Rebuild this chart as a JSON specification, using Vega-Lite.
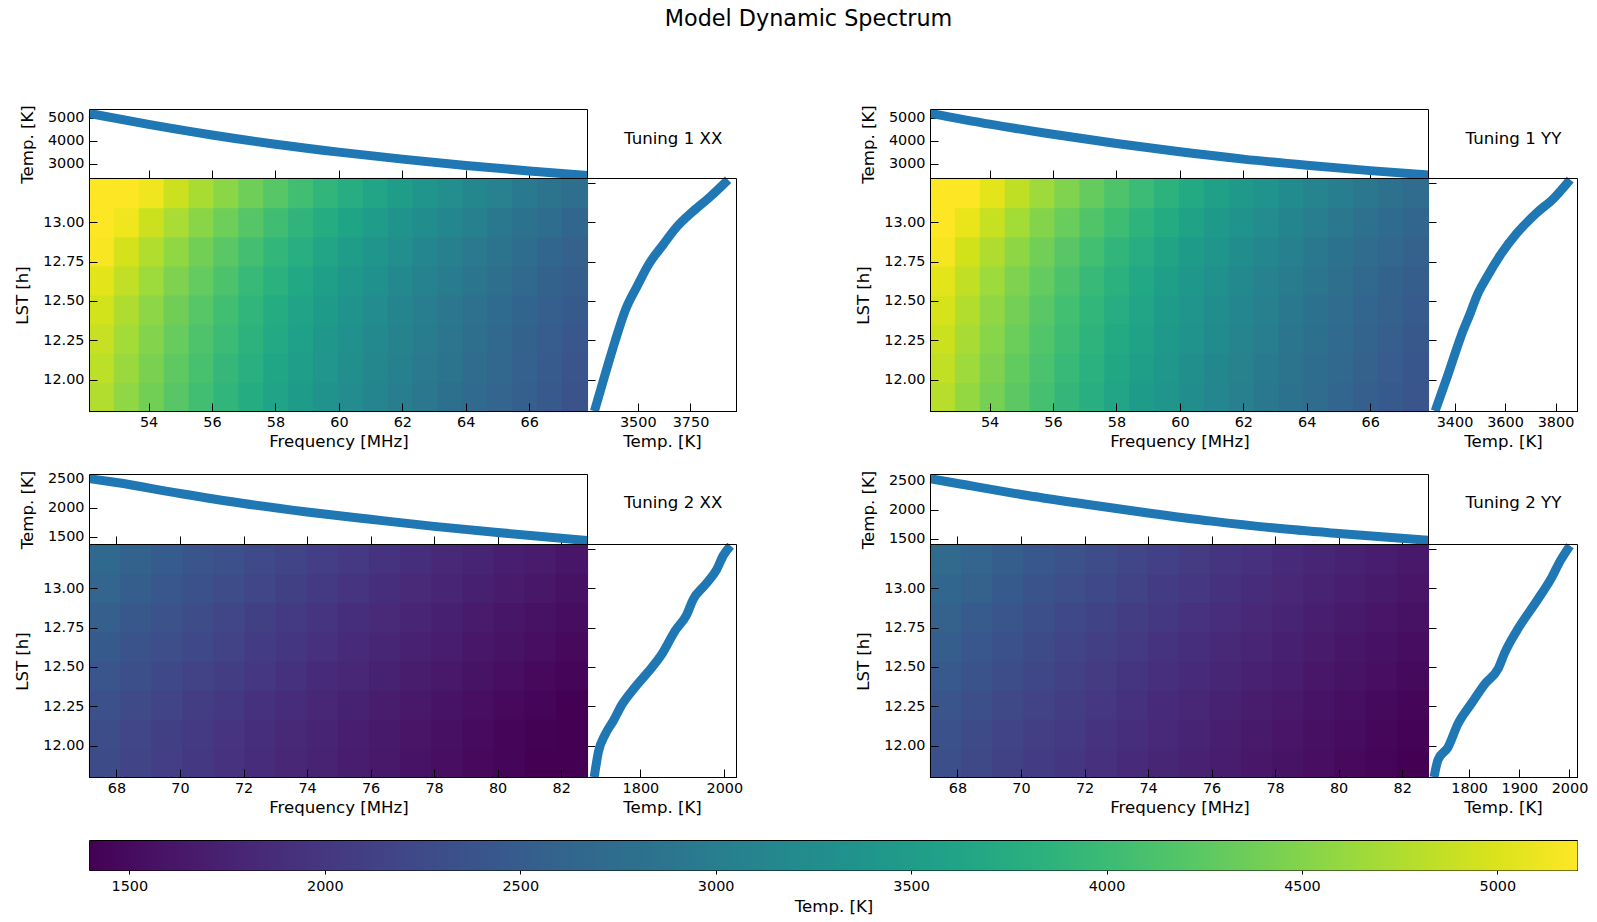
{"$schema":"https://vega.github.io/schema/vega-lite/v6.json","width":1597,"height":922,"padding":0,"autosize":"none","background":"white",
"title":{"text":"Model Dynamic Spectrum","font":"DejaVu Sans","fontSize":22.3,"fontWeight":"normal","anchor":"middle","frame":"group","offset":0,"dy":30,"dx":10,"color":"black"},
"config":{"view":{"stroke":null},"font":"DejaVu Sans","axis":{"grid":false,"domainColor":"black","tickColor":"black","labelColor":"black","titleColor":"black","labelFont":"DejaVu Sans","titleFont":"DejaVu Sans","labelFontSize":14.4,"titleFontSize":16.6,"titleFontWeight":"normal","tickSize":-8,"labelPadding":12,"titlePadding":5,"labelOverlap":false,"labelFlush":false,"labelBound":false},"axisLeft":{"labelPadding":13,"titlePadding":12},"text":{"font":"DejaVu Sans"}},
"datasets":{
"h1x":[
{"f":52.53,"h":11.89,"t":4768},{"f":53.315,"h":11.89,"t":4573},{"f":54.1,"h":11.89,"t":4390},{"f":54.885,"h":11.89,"t":4216},{"f":55.67,"h":11.89,"t":4052},{"f":56.455,"h":11.89,"t":3897},{"f":57.24,"h":11.89,"t":3749},{"f":58.025,"h":11.89,"t":3608},{"f":58.81,"h":11.89,"t":3476},{"f":59.595,"h":11.89,"t":3348},{"f":60.38,"h":11.89,"t":3230},{"f":61.165,"h":11.89,"t":3114},{"f":61.95,"h":11.89,"t":3005},{"f":62.735,"h":11.89,"t":2900},{"f":63.52,"h":11.89,"t":2801},{"f":64.305,"h":11.89,"t":2705},{"f":65.09,"h":11.89,"t":2615},{"f":65.875,"h":11.89,"t":2530},{"f":66.66,"h":11.89,"t":2448},{"f":67.445,"h":11.89,"t":2370},
{"f":52.53,"h":12.075,"t":4824},{"f":53.315,"h":12.075,"t":4627},{"f":54.1,"h":12.075,"t":4441},{"f":54.885,"h":12.075,"t":4265},{"f":55.67,"h":12.075,"t":4099},{"f":56.455,"h":12.075,"t":3942},{"f":57.24,"h":12.075,"t":3793},{"f":58.025,"h":12.075,"t":3650},{"f":58.81,"h":12.075,"t":3517},{"f":59.595,"h":12.075,"t":3387},{"f":60.38,"h":12.075,"t":3267},{"f":61.165,"h":12.075,"t":3150},{"f":61.95,"h":12.075,"t":3040},{"f":62.735,"h":12.075,"t":2934},{"f":63.52,"h":12.075,"t":2834},{"f":64.305,"h":12.075,"t":2737},{"f":65.09,"h":12.075,"t":2646},{"f":65.875,"h":12.075,"t":2560},{"f":66.66,"h":12.075,"t":2476},{"f":67.445,"h":12.075,"t":2398},
{"f":52.53,"h":12.26,"t":4885},{"f":53.315,"h":12.26,"t":4685},{"f":54.1,"h":12.26,"t":4497},{"f":54.885,"h":12.26,"t":4319},{"f":55.67,"h":12.26,"t":4151},{"f":56.455,"h":12.26,"t":3992},{"f":57.24,"h":12.26,"t":3841},{"f":58.025,"h":12.26,"t":3696},{"f":58.81,"h":12.26,"t":3561},{"f":59.595,"h":12.26,"t":3430},{"f":60.38,"h":12.26,"t":3308},{"f":61.165,"h":12.26,"t":3190},{"f":61.95,"h":12.26,"t":3078},{"f":62.735,"h":12.26,"t":2971},{"f":63.52,"h":12.26,"t":2870},{"f":64.305,"h":12.26,"t":2772},{"f":65.09,"h":12.26,"t":2679},{"f":65.875,"h":12.26,"t":2592},{"f":66.66,"h":12.26,"t":2507},{"f":67.445,"h":12.26,"t":2428},
{"f":52.53,"h":12.445,"t":4950},{"f":53.315,"h":12.445,"t":4748},{"f":54.1,"h":12.445,"t":4558},{"f":54.885,"h":12.445,"t":4377},{"f":55.67,"h":12.445,"t":4207},{"f":56.455,"h":12.445,"t":4046},{"f":57.24,"h":12.445,"t":3892},{"f":58.025,"h":12.445,"t":3746},{"f":58.81,"h":12.445,"t":3609},{"f":59.595,"h":12.445,"t":3476},{"f":60.38,"h":12.445,"t":3353},{"f":61.165,"h":12.445,"t":3233},{"f":61.95,"h":12.445,"t":3120},{"f":62.735,"h":12.445,"t":3011},{"f":63.52,"h":12.445,"t":2909},{"f":64.305,"h":12.445,"t":2809},{"f":65.09,"h":12.445,"t":2715},{"f":65.875,"h":12.445,"t":2627},{"f":66.66,"h":12.445,"t":2541},{"f":67.445,"h":12.445,"t":2461},
{"f":52.53,"h":12.63,"t":5052},{"f":53.315,"h":12.63,"t":4845},{"f":54.1,"h":12.63,"t":4651},{"f":54.885,"h":12.63,"t":4467},{"f":55.67,"h":12.63,"t":4293},{"f":56.455,"h":12.63,"t":4129},{"f":57.24,"h":12.63,"t":3972},{"f":58.025,"h":12.63,"t":3822},{"f":58.81,"h":12.63,"t":3683},{"f":59.595,"h":12.63,"t":3547},{"f":60.38,"h":12.63,"t":3422},{"f":61.165,"h":12.63,"t":3299},{"f":61.95,"h":12.63,"t":3183},{"f":62.735,"h":12.63,"t":3073},{"f":63.52,"h":12.63,"t":2968},{"f":64.305,"h":12.63,"t":2866},{"f":65.09,"h":12.63,"t":2771},{"f":65.875,"h":12.63,"t":2681},{"f":66.66,"h":12.63,"t":2593},{"f":67.445,"h":12.63,"t":2511},
{"f":52.53,"h":12.815,"t":5173},{"f":53.315,"h":12.815,"t":4962},{"f":54.1,"h":12.815,"t":4763},{"f":54.885,"h":12.815,"t":4574},{"f":55.67,"h":12.815,"t":4396},{"f":56.455,"h":12.815,"t":4228},{"f":57.24,"h":12.815,"t":4068},{"f":58.025,"h":12.815,"t":3915},{"f":58.81,"h":12.815,"t":3772},{"f":59.595,"h":12.815,"t":3633},{"f":60.38,"h":12.815,"t":3504},{"f":61.165,"h":12.815,"t":3379},{"f":61.95,"h":12.815,"t":3260},{"f":62.735,"h":12.815,"t":3147},{"f":63.52,"h":12.815,"t":3039},{"f":64.305,"h":12.815,"t":2935},{"f":65.09,"h":12.815,"t":2837},{"f":65.875,"h":12.815,"t":2745},{"f":66.66,"h":12.815,"t":2656},{"f":67.445,"h":12.815,"t":2572},
{"f":52.53,"h":13,"t":5336},{"f":53.315,"h":13,"t":5118},{"f":54.1,"h":13,"t":4912},{"f":54.885,"h":13,"t":4717},{"f":55.67,"h":13,"t":4534},{"f":56.455,"h":13,"t":4361},{"f":57.24,"h":13,"t":4195},{"f":58.025,"h":13,"t":4037},{"f":58.81,"h":13,"t":3890},{"f":59.595,"h":13,"t":3747},{"f":60.38,"h":13,"t":3614},{"f":61.165,"h":13,"t":3484},{"f":61.95,"h":13,"t":3362},{"f":62.735,"h":13,"t":3245},{"f":63.52,"h":13,"t":3135},{"f":64.305,"h":13,"t":3027},{"f":65.09,"h":13,"t":2926},{"f":65.875,"h":13,"t":2832},{"f":66.66,"h":13,"t":2739},{"f":67.445,"h":13,"t":2653},
{"f":52.53,"h":13.185,"t":5553},{"f":53.315,"h":13.185,"t":5327},{"f":54.1,"h":13.185,"t":5113},{"f":54.885,"h":13.185,"t":4910},{"f":55.67,"h":13.185,"t":4719},{"f":56.455,"h":13.185,"t":4539},{"f":57.24,"h":13.185,"t":4366},{"f":58.025,"h":13.185,"t":4202},{"f":58.81,"h":13.185,"t":4049},{"f":59.595,"h":13.185,"t":3900},{"f":60.38,"h":13.185,"t":3761},{"f":61.165,"h":13.185,"t":3627},{"f":61.95,"h":13.185,"t":3500},{"f":62.735,"h":13.185,"t":3378},{"f":63.52,"h":13.185,"t":3263},{"f":64.305,"h":13.185,"t":3151},{"f":65.09,"h":13.185,"t":3046},{"f":65.875,"h":13.185,"t":2947},{"f":66.66,"h":13.185,"t":2851},{"f":67.445,"h":13.185,"t":2761}],
"h1y":[
{"f":52.53,"h":11.89,"t":4798},{"f":53.315,"h":11.89,"t":4602},{"f":54.1,"h":11.89,"t":4418},{"f":54.885,"h":11.89,"t":4243},{"f":55.67,"h":11.89,"t":4078},{"f":56.455,"h":11.89,"t":3922},{"f":57.24,"h":11.89,"t":3773},{"f":58.025,"h":11.89,"t":3631},{"f":58.81,"h":11.89,"t":3498},{"f":59.595,"h":11.89,"t":3369},{"f":60.38,"h":11.89,"t":3250},{"f":61.165,"h":11.89,"t":3134},{"f":61.95,"h":11.89,"t":3024},{"f":62.735,"h":11.89,"t":2919},{"f":63.52,"h":11.89,"t":2819},{"f":64.305,"h":11.89,"t":2723},{"f":65.09,"h":11.89,"t":2632},{"f":65.875,"h":11.89,"t":2547},{"f":66.66,"h":11.89,"t":2463},{"f":67.445,"h":11.89,"t":2386},
{"f":52.53,"h":12.075,"t":4854},{"f":53.315,"h":12.075,"t":4656},{"f":54.1,"h":12.075,"t":4469},{"f":54.885,"h":12.075,"t":4292},{"f":55.67,"h":12.075,"t":4125},{"f":56.455,"h":12.075,"t":3967},{"f":57.24,"h":12.075,"t":3817},{"f":58.025,"h":12.075,"t":3673},{"f":58.81,"h":12.075,"t":3539},{"f":59.595,"h":12.075,"t":3409},{"f":60.38,"h":12.075,"t":3288},{"f":61.165,"h":12.075,"t":3170},{"f":61.95,"h":12.075,"t":3059},{"f":62.735,"h":12.075,"t":2953},{"f":63.52,"h":12.075,"t":2852},{"f":64.305,"h":12.075,"t":2754},{"f":65.09,"h":12.075,"t":2662},{"f":65.875,"h":12.075,"t":2576},{"f":66.66,"h":12.075,"t":2492},{"f":67.445,"h":12.075,"t":2413},
{"f":52.53,"h":12.26,"t":4915},{"f":53.315,"h":12.26,"t":4714},{"f":54.1,"h":12.26,"t":4525},{"f":54.885,"h":12.26,"t":4346},{"f":55.67,"h":12.26,"t":4177},{"f":56.455,"h":12.26,"t":4017},{"f":57.24,"h":12.26,"t":3864},{"f":58.025,"h":12.26,"t":3719},{"f":58.81,"h":12.26,"t":3583},{"f":59.595,"h":12.26,"t":3451},{"f":60.38,"h":12.26,"t":3329},{"f":61.165,"h":12.26,"t":3210},{"f":61.95,"h":12.26,"t":3097},{"f":62.735,"h":12.26,"t":2990},{"f":63.52,"h":12.26,"t":2888},{"f":64.305,"h":12.26,"t":2789},{"f":65.09,"h":12.26,"t":2696},{"f":65.875,"h":12.26,"t":2608},{"f":66.66,"h":12.26,"t":2523},{"f":67.445,"h":12.26,"t":2443},
{"f":52.53,"h":12.445,"t":4976},{"f":53.315,"h":12.445,"t":4773},{"f":54.1,"h":12.445,"t":4581},{"f":54.885,"h":12.445,"t":4399},{"f":55.67,"h":12.445,"t":4228},{"f":56.455,"h":12.445,"t":4066},{"f":57.24,"h":12.445,"t":3912},{"f":58.025,"h":12.445,"t":3765},{"f":58.81,"h":12.445,"t":3627},{"f":59.595,"h":12.445,"t":3494},{"f":60.38,"h":12.445,"t":3370},{"f":61.165,"h":12.445,"t":3249},{"f":61.95,"h":12.445,"t":3136},{"f":62.735,"h":12.445,"t":3027},{"f":63.52,"h":12.445,"t":2923},{"f":64.305,"h":12.445,"t":2823},{"f":65.09,"h":12.445,"t":2729},{"f":65.875,"h":12.445,"t":2641},{"f":66.66,"h":12.445,"t":2554},{"f":67.445,"h":12.445,"t":2474},
{"f":52.53,"h":12.63,"t":5052},{"f":53.315,"h":12.63,"t":4845},{"f":54.1,"h":12.63,"t":4651},{"f":54.885,"h":12.63,"t":4467},{"f":55.67,"h":12.63,"t":4293},{"f":56.455,"h":12.63,"t":4129},{"f":57.24,"h":12.63,"t":3972},{"f":58.025,"h":12.63,"t":3822},{"f":58.81,"h":12.63,"t":3683},{"f":59.595,"h":12.63,"t":3547},{"f":60.38,"h":12.63,"t":3422},{"f":61.165,"h":12.63,"t":3299},{"f":61.95,"h":12.63,"t":3183},{"f":62.735,"h":12.63,"t":3073},{"f":63.52,"h":12.63,"t":2968},{"f":64.305,"h":12.63,"t":2866},{"f":65.09,"h":12.63,"t":2771},{"f":65.875,"h":12.63,"t":2681},{"f":66.66,"h":12.63,"t":2593},{"f":67.445,"h":12.63,"t":2511},
{"f":52.53,"h":12.815,"t":5158},{"f":53.315,"h":12.815,"t":4947},{"f":54.1,"h":12.815,"t":4749},{"f":54.885,"h":12.815,"t":4561},{"f":55.67,"h":12.815,"t":4384},{"f":56.455,"h":12.815,"t":4216},{"f":57.24,"h":12.815,"t":4056},{"f":58.025,"h":12.815,"t":3903},{"f":58.81,"h":12.815,"t":3760},{"f":59.595,"h":12.815,"t":3622},{"f":60.38,"h":12.815,"t":3494},{"f":61.165,"h":12.815,"t":3369},{"f":61.95,"h":12.815,"t":3251},{"f":62.735,"h":12.815,"t":3137},{"f":63.52,"h":12.815,"t":3031},{"f":64.305,"h":12.815,"t":2927},{"f":65.09,"h":12.815,"t":2829},{"f":65.875,"h":12.815,"t":2737},{"f":66.66,"h":12.815,"t":2648},{"f":67.445,"h":12.815,"t":2564},
{"f":52.53,"h":13,"t":5300},{"f":53.315,"h":13,"t":5084},{"f":54.1,"h":13,"t":4880},{"f":54.885,"h":13,"t":4686},{"f":55.67,"h":13,"t":4504},{"f":56.455,"h":13,"t":4332},{"f":57.24,"h":13,"t":4167},{"f":58.025,"h":13,"t":4010},{"f":58.81,"h":13,"t":3864},{"f":59.595,"h":13,"t":3722},{"f":60.38,"h":13,"t":3590},{"f":61.165,"h":13,"t":3461},{"f":61.95,"h":13,"t":3340},{"f":62.735,"h":13,"t":3224},{"f":63.52,"h":13,"t":3114},{"f":64.305,"h":13,"t":3007},{"f":65.09,"h":13,"t":2907},{"f":65.875,"h":13,"t":2813},{"f":66.66,"h":13,"t":2721},{"f":67.445,"h":13,"t":2635},
{"f":52.53,"h":13.185,"t":5477},{"f":53.315,"h":13.185,"t":5254},{"f":54.1,"h":13.185,"t":5043},{"f":54.885,"h":13.185,"t":4843},{"f":55.67,"h":13.185,"t":4655},{"f":56.455,"h":13.185,"t":4476},{"f":57.24,"h":13.185,"t":4307},{"f":58.025,"h":13.185,"t":4145},{"f":58.81,"h":13.185,"t":3993},{"f":59.595,"h":13.185,"t":3846},{"f":60.38,"h":13.185,"t":3710},{"f":61.165,"h":13.185,"t":3577},{"f":61.95,"h":13.185,"t":3452},{"f":62.735,"h":13.185,"t":3332},{"f":63.52,"h":13.185,"t":3218},{"f":64.305,"h":13.185,"t":3108},{"f":65.09,"h":13.185,"t":3004},{"f":65.875,"h":13.185,"t":2907},{"f":66.66,"h":13.185,"t":2812},{"f":67.445,"h":13.185,"t":2723}],
"h2x":[
{"f":67.64,"h":11.89,"t":2248},{"f":68.62,"h":11.89,"t":2165},{"f":69.6,"h":11.89,"t":2087},{"f":70.58,"h":11.89,"t":2011},{"f":71.56,"h":11.89,"t":1940},{"f":72.54,"h":11.89,"t":1873},{"f":73.52,"h":11.89,"t":1809},{"f":74.5,"h":11.89,"t":1746},{"f":75.48,"h":11.89,"t":1688},{"f":76.46,"h":11.89,"t":1632},{"f":77.44,"h":11.89,"t":1579},{"f":78.42,"h":11.89,"t":1528},{"f":79.4,"h":11.89,"t":1479},{"f":80.38,"h":11.89,"t":1433},{"f":81.36,"h":11.89,"t":1388},{"f":82.34,"h":11.89,"t":1346},
{"f":67.64,"h":12.075,"t":2272},{"f":68.62,"h":12.075,"t":2188},{"f":69.6,"h":12.075,"t":2109},{"f":70.58,"h":12.075,"t":2033},{"f":71.56,"h":12.075,"t":1961},{"f":72.54,"h":12.075,"t":1893},{"f":73.52,"h":12.075,"t":1828},{"f":74.5,"h":12.075,"t":1765},{"f":75.48,"h":12.075,"t":1707},{"f":76.46,"h":12.075,"t":1650},{"f":77.44,"h":12.075,"t":1596},{"f":78.42,"h":12.075,"t":1545},{"f":79.4,"h":12.075,"t":1495},{"f":80.38,"h":12.075,"t":1449},{"f":81.36,"h":12.075,"t":1403},{"f":82.34,"h":12.075,"t":1361},
{"f":67.64,"h":12.26,"t":2321},{"f":68.62,"h":12.26,"t":2235},{"f":69.6,"h":12.26,"t":2155},{"f":70.58,"h":12.26,"t":2077},{"f":71.56,"h":12.26,"t":2004},{"f":72.54,"h":12.26,"t":1934},{"f":73.52,"h":12.26,"t":1868},{"f":74.5,"h":12.26,"t":1803},{"f":75.48,"h":12.26,"t":1743},{"f":76.46,"h":12.26,"t":1685},{"f":77.44,"h":12.26,"t":1630},{"f":78.42,"h":12.26,"t":1578},{"f":79.4,"h":12.26,"t":1528},{"f":80.38,"h":12.26,"t":1480},{"f":81.36,"h":12.26,"t":1434},{"f":82.34,"h":12.26,"t":1390},
{"f":67.64,"h":12.445,"t":2394},{"f":68.62,"h":12.445,"t":2306},{"f":69.6,"h":12.445,"t":2223},{"f":70.58,"h":12.445,"t":2142},{"f":71.56,"h":12.445,"t":2067},{"f":72.54,"h":12.445,"t":1995},{"f":73.52,"h":12.445,"t":1927},{"f":74.5,"h":12.445,"t":1860},{"f":75.48,"h":12.445,"t":1798},{"f":76.46,"h":12.445,"t":1739},{"f":77.44,"h":12.445,"t":1682},{"f":78.42,"h":12.445,"t":1628},{"f":79.4,"h":12.445,"t":1576},{"f":80.38,"h":12.445,"t":1527},{"f":81.36,"h":12.445,"t":1479},{"f":82.34,"h":12.445,"t":1434},
{"f":67.64,"h":12.63,"t":2467},{"f":68.62,"h":12.63,"t":2377},{"f":69.6,"h":12.63,"t":2291},{"f":70.58,"h":12.63,"t":2208},{"f":71.56,"h":12.63,"t":2130},{"f":72.54,"h":12.63,"t":2056},{"f":73.52,"h":12.63,"t":1986},{"f":74.5,"h":12.63,"t":1917},{"f":75.48,"h":12.63,"t":1853},{"f":76.46,"h":12.63,"t":1792},{"f":77.44,"h":12.63,"t":1733},{"f":78.42,"h":12.63,"t":1678},{"f":79.4,"h":12.63,"t":1624},{"f":80.38,"h":12.63,"t":1574},{"f":81.36,"h":12.63,"t":1524},{"f":82.34,"h":12.63,"t":1478},
{"f":67.64,"h":12.815,"t":2529},{"f":68.62,"h":12.815,"t":2435},{"f":69.6,"h":12.815,"t":2347},{"f":70.58,"h":12.815,"t":2263},{"f":71.56,"h":12.815,"t":2183},{"f":72.54,"h":12.815,"t":2107},{"f":73.52,"h":12.815,"t":2035},{"f":74.5,"h":12.815,"t":1964},{"f":75.48,"h":12.815,"t":1899},{"f":76.46,"h":12.815,"t":1836},{"f":77.44,"h":12.815,"t":1776},{"f":78.42,"h":12.815,"t":1719},{"f":79.4,"h":12.815,"t":1664},{"f":80.38,"h":12.815,"t":1613},{"f":81.36,"h":12.815,"t":1562},{"f":82.34,"h":12.815,"t":1514},
{"f":67.64,"h":13,"t":2614},{"f":68.62,"h":13,"t":2518},{"f":69.6,"h":13,"t":2427},{"f":70.58,"h":13,"t":2339},{"f":71.56,"h":13,"t":2257},{"f":72.54,"h":13,"t":2179},{"f":73.52,"h":13,"t":2104},{"f":74.5,"h":13,"t":2031},{"f":75.48,"h":13,"t":1963},{"f":76.46,"h":13,"t":1898},{"f":77.44,"h":13,"t":1836},{"f":78.42,"h":13,"t":1777},{"f":79.4,"h":13,"t":1721},{"f":80.38,"h":13,"t":1667},{"f":81.36,"h":13,"t":1615},{"f":82.34,"h":13,"t":1565},
{"f":67.64,"h":13.185,"t":2687},{"f":68.62,"h":13.185,"t":2588},{"f":69.6,"h":13.185,"t":2495},{"f":70.58,"h":13.185,"t":2405},{"f":71.56,"h":13.185,"t":2320},{"f":72.54,"h":13.185,"t":2240},{"f":73.52,"h":13.185,"t":2163},{"f":74.5,"h":13.185,"t":2088},{"f":75.48,"h":13.185,"t":2019},{"f":76.46,"h":13.185,"t":1951},{"f":77.44,"h":13.185,"t":1888},{"f":78.42,"h":13.185,"t":1827},{"f":79.4,"h":13.185,"t":1769},{"f":80.38,"h":13.185,"t":1714},{"f":81.36,"h":13.185,"t":1660},{"f":82.34,"h":13.185,"t":1609}],
"h2y":[
{"f":67.64,"h":11.89,"t":2303},{"f":68.62,"h":11.89,"t":2218},{"f":69.6,"h":11.89,"t":2140},{"f":70.58,"h":11.89,"t":2063},{"f":71.56,"h":11.89,"t":1991},{"f":72.54,"h":11.89,"t":1922},{"f":73.52,"h":11.89,"t":1856},{"f":74.5,"h":11.89,"t":1793},{"f":75.48,"h":11.89,"t":1734},{"f":76.46,"h":11.89,"t":1678},{"f":77.44,"h":11.89,"t":1625},{"f":78.42,"h":11.89,"t":1574},{"f":79.4,"h":11.89,"t":1524},{"f":80.38,"h":11.89,"t":1478},{"f":81.36,"h":11.89,"t":1434},{"f":82.34,"h":11.89,"t":1392},
{"f":67.64,"h":12.075,"t":2341},{"f":68.62,"h":12.075,"t":2254},{"f":69.6,"h":12.075,"t":2174},{"f":70.58,"h":12.075,"t":2096},{"f":71.56,"h":12.075,"t":2023},{"f":72.54,"h":12.075,"t":1953},{"f":73.52,"h":12.075,"t":1887},{"f":74.5,"h":12.075,"t":1822},{"f":75.48,"h":12.075,"t":1763},{"f":76.46,"h":12.075,"t":1705},{"f":77.44,"h":12.075,"t":1652},{"f":78.42,"h":12.075,"t":1600},{"f":79.4,"h":12.075,"t":1549},{"f":80.38,"h":12.075,"t":1502},{"f":81.36,"h":12.075,"t":1457},{"f":82.34,"h":12.075,"t":1415},
{"f":67.64,"h":12.26,"t":2390},{"f":68.62,"h":12.26,"t":2302},{"f":69.6,"h":12.26,"t":2220},{"f":70.58,"h":12.26,"t":2141},{"f":71.56,"h":12.26,"t":2066},{"f":72.54,"h":12.26,"t":1995},{"f":73.52,"h":12.26,"t":1927},{"f":74.5,"h":12.26,"t":1860},{"f":75.48,"h":12.26,"t":1800},{"f":76.46,"h":12.26,"t":1741},{"f":77.44,"h":12.26,"t":1687},{"f":78.42,"h":12.26,"t":1634},{"f":79.4,"h":12.26,"t":1582},{"f":80.38,"h":12.26,"t":1534},{"f":81.36,"h":12.26,"t":1488},{"f":82.34,"h":12.26,"t":1445},
{"f":67.64,"h":12.445,"t":2453},{"f":68.62,"h":12.445,"t":2362},{"f":69.6,"h":12.445,"t":2278},{"f":70.58,"h":12.445,"t":2197},{"f":71.56,"h":12.445,"t":2120},{"f":72.54,"h":12.445,"t":2047},{"f":73.52,"h":12.445,"t":1977},{"f":74.5,"h":12.445,"t":1909},{"f":75.48,"h":12.445,"t":1847},{"f":76.46,"h":12.445,"t":1787},{"f":77.44,"h":12.445,"t":1731},{"f":78.42,"h":12.445,"t":1676},{"f":79.4,"h":12.445,"t":1623},{"f":80.38,"h":12.445,"t":1574},{"f":81.36,"h":12.445,"t":1527},{"f":82.34,"h":12.445,"t":1482},
{"f":67.64,"h":12.63,"t":2515},{"f":68.62,"h":12.63,"t":2422},{"f":69.6,"h":12.63,"t":2336},{"f":70.58,"h":12.63,"t":2252},{"f":71.56,"h":12.63,"t":2174},{"f":72.54,"h":12.63,"t":2099},{"f":73.52,"h":12.63,"t":2027},{"f":74.5,"h":12.63,"t":1957},{"f":75.48,"h":12.63,"t":1894},{"f":76.46,"h":12.63,"t":1832},{"f":77.44,"h":12.63,"t":1775},{"f":78.42,"h":12.63,"t":1719},{"f":79.4,"h":12.63,"t":1664},{"f":80.38,"h":12.63,"t":1614},{"f":81.36,"h":12.63,"t":1566},{"f":82.34,"h":12.63,"t":1520},
{"f":67.64,"h":12.815,"t":2577},{"f":68.62,"h":12.815,"t":2482},{"f":69.6,"h":12.815,"t":2394},{"f":70.58,"h":12.815,"t":2308},{"f":71.56,"h":12.815,"t":2227},{"f":72.54,"h":12.815,"t":2151},{"f":73.52,"h":12.815,"t":2077},{"f":74.5,"h":12.815,"t":2006},{"f":75.48,"h":12.815,"t":1941},{"f":76.46,"h":12.815,"t":1877},{"f":77.44,"h":12.815,"t":1818},{"f":78.42,"h":12.815,"t":1762},{"f":79.4,"h":12.815,"t":1706},{"f":80.38,"h":12.815,"t":1654},{"f":81.36,"h":12.815,"t":1604},{"f":82.34,"h":12.815,"t":1558},
{"f":67.64,"h":13,"t":2652},{"f":68.62,"h":13,"t":2554},{"f":69.6,"h":13,"t":2463},{"f":70.58,"h":13,"t":2375},{"f":71.56,"h":13,"t":2292},{"f":72.54,"h":13,"t":2213},{"f":73.52,"h":13,"t":2137},{"f":74.5,"h":13,"t":2064},{"f":75.48,"h":13,"t":1997},{"f":76.46,"h":13,"t":1932},{"f":77.44,"h":13,"t":1871},{"f":78.42,"h":13,"t":1813},{"f":79.4,"h":13,"t":1755},{"f":80.38,"h":13,"t":1702},{"f":81.36,"h":13,"t":1651},{"f":82.34,"h":13,"t":1603},
{"f":67.64,"h":13.185,"t":2714},{"f":68.62,"h":13.185,"t":2614},{"f":69.6,"h":13.185,"t":2521},{"f":70.58,"h":13.185,"t":2431},{"f":71.56,"h":13.185,"t":2346},{"f":72.54,"h":13.185,"t":2265},{"f":73.52,"h":13.185,"t":2188},{"f":74.5,"h":13.185,"t":2112},{"f":75.48,"h":13.185,"t":2044},{"f":76.46,"h":13.185,"t":1977},{"f":77.44,"h":13.185,"t":1915},{"f":78.42,"h":13.185,"t":1855},{"f":79.4,"h":13.185,"t":1796},{"f":80.38,"h":13.185,"t":1742},{"f":81.36,"h":13.185,"t":1690},{"f":82.34,"h":13.185,"t":1640}],
"t1x":[{"f":52.14,"t":5174},{"f":54,"t":4700},{"f":56,"t":4240},{"f":58,"t":3840},{"f":60,"t":3495},{"f":62,"t":3190},{"f":64,"t":2915},{"f":66,"t":2675},{"f":67.84,"t":2480}],
"t1y":[{"f":52.14,"t":5180},{"f":54,"t":4710},{"f":56,"t":4270},{"f":58,"t":3870},{"f":60,"t":3510},{"f":62,"t":3190},{"f":64,"t":2925},{"f":66,"t":2690},{"f":67.84,"t":2500}],
"t2x":[{"f":67.15,"t":2490},{"f":68,"t":2425},{"f":70,"t":2238},{"f":72,"t":2068},{"f":74,"t":1925},{"f":76,"t":1800},{"f":78,"t":1680},{"f":80,"t":1575},{"f":82.84,"t":1440}],
"t2y":[{"f":67.15,"t":2530},{"f":68,"t":2448},{"f":70,"t":2259},{"f":72,"t":2095},{"f":74,"t":1941},{"f":76,"t":1800},{"f":78,"t":1680},{"f":80,"t":1586},{"f":82.84,"t":1470}],
"r1x":[{"h":11.8,"t":3295},{"h":12.04,"t":3347},{"h":12.25,"t":3394},{"h":12.44,"t":3441},{"h":12.59,"t":3496},{"h":12.73,"t":3551},{"h":12.86,"t":3622},{"h":12.97,"t":3685},{"h":13.07,"t":3763},{"h":13.16,"t":3842},{"h":13.27,"t":3928}],
"r1y":[{"h":11.8,"t":3323},{"h":11.89,"t":3343},{"h":12.04,"t":3376},{"h":12.17,"t":3403},{"h":12.29,"t":3429},{"h":12.42,"t":3462},{"h":12.53,"t":3488},{"h":12.65,"t":3528},{"h":12.79,"t":3581},{"h":12.93,"t":3647},{"h":13.06,"t":3726},{"h":13.15,"t":3792},{"h":13.27,"t":3858}],
"r2x":[{"h":11.8,"t":1690},{"h":11.96,"t":1700},{"h":12.07,"t":1716},{"h":12.16,"t":1736},{"h":12.26,"t":1756},{"h":12.37,"t":1787},{"h":12.47,"t":1819},{"h":12.58,"t":1851},{"h":12.73,"t":1883},{"h":12.83,"t":1910},{"h":12.93,"t":1926},{"h":13.02,"t":1954},{"h":13.12,"t":1982},{"h":13.21,"t":1998},{"h":13.27,"t":2015}],
"r2y":[{"h":11.8,"t":1730},{"h":11.91,"t":1738},{"h":11.99,"t":1758},{"h":12.14,"t":1778},{"h":12.27,"t":1805},{"h":12.39,"t":1831},{"h":12.49,"t":1858},{"h":12.59,"t":1871},{"h":12.73,"t":1895},{"h":12.92,"t":1935},{"h":13.07,"t":1965},{"h":13.17,"t":1981},{"h":13.27,"t":2001}]
},
"resolve":{"scale":{"x":"independent","y":"independent","color":"shared"},"axis":{"x":"independent","y":"independent"}},
"layer":[
{"data":{"name":"t1x"},"mark":{"type":"line","color":"#1f77b4","strokeWidth":9,"strokeCap":"butt","interpolate":"monotone"},"encoding":{"x":{"field":"f","type":"quantitative","scale":{"domain":[52.1375,67.8375],"range":[89.5,587.5]},"axis":{"orient":"bottom","offset":-744,"values":[54,56,58,60,62,64,66],"labels":false,"title":null}},"y":{"field":"t","type":"quantitative","scale":{"domain":[2348,5348],"range":[178.5,109.5]},"axis":{"orient":"left","offset":-89,"values":[3000,4000,5000],"title":"Temp. [K]","format":"d"}}}},
{"data":{"name":"r1x"},"mark":{"type":"line","color":"#1f77b4","strokeWidth":9,"strokeCap":"butt","interpolate":"monotone"},"encoding":{"x":{"field":"t","type":"quantitative","scale":{"domain":[3262,3968],"range":[587.5,736.5]},"axis":{"orient":"bottom","offset":-511,"values":[3500,3750],"title":"Temp. [K]","format":"d"}},"y":{"field":"h","type":"quantitative","scale":{"domain":[11.7975,13.2775],"range":[411.5,178.5]},"axis":{"orient":"left","offset":-587,"values":[12,12.25,12.5,12.75,13,13.25],"labels":false,"title":null}}}},
{"data":{"name":"t1y"},"mark":{"type":"line","color":"#1f77b4","strokeWidth":9,"strokeCap":"butt","interpolate":"monotone"},"encoding":{"x":{"field":"f","type":"quantitative","scale":{"domain":[52.1375,67.8375],"range":[930.5,1428.5]},"axis":{"orient":"bottom","offset":-744,"values":[54,56,58,60,62,64,66],"labels":false,"title":null}},"y":{"field":"t","type":"quantitative","scale":{"domain":[2348,5348],"range":[178.5,109.5]},"axis":{"orient":"left","offset":-930,"values":[3000,4000,5000],"title":"Temp. [K]","format":"d"}}}},
{"data":{"name":"r1y"},"mark":{"type":"line","color":"#1f77b4","strokeWidth":9,"strokeCap":"butt","interpolate":"monotone"},"encoding":{"x":{"field":"t","type":"quantitative","scale":{"domain":[3297,3887],"range":[1428.5,1577.5]},"axis":{"orient":"bottom","offset":-511,"values":[3400,3600,3800],"title":"Temp. [K]","format":"d"}},"y":{"field":"h","type":"quantitative","scale":{"domain":[11.7975,13.2775],"range":[411.5,178.5]},"axis":{"orient":"left","offset":-1428,"values":[12,12.25,12.5,12.75,13,13.25],"labels":false,"title":null}}}},
{"data":{"name":"t2x"},"mark":{"type":"line","color":"#1f77b4","strokeWidth":9,"strokeCap":"butt","interpolate":"monotone"},"encoding":{"x":{"field":"f","type":"quantitative","scale":{"domain":[67.15,82.83],"range":[89.5,587.5]},"axis":{"orient":"bottom","offset":-378,"values":[68,70,72,74,76,78,80,82],"labels":false,"title":null}},"y":{"field":"t","type":"quantitative","scale":{"domain":[1372,2561],"range":[544.5,474.5]},"axis":{"orient":"left","offset":-89,"values":[1500,2000,2500],"title":"Temp. [K]","format":"d"}}}},
{"data":{"name":"r2x"},"mark":{"type":"line","color":"#1f77b4","strokeWidth":9,"strokeCap":"butt","interpolate":"monotone"},"encoding":{"x":{"field":"t","type":"quantitative","scale":{"domain":[1674,2029],"range":[587.5,736.5]},"axis":{"orient":"bottom","offset":-145,"values":[1800,2000],"title":"Temp. [K]","format":"d"}},"y":{"field":"h","type":"quantitative","scale":{"domain":[11.7975,13.2775],"range":[777.5,544.5]},"axis":{"orient":"left","offset":-587,"values":[12,12.25,12.5,12.75,13,13.25],"labels":false,"title":null}}}},
{"data":{"name":"t2y"},"mark":{"type":"line","color":"#1f77b4","strokeWidth":9,"strokeCap":"butt","interpolate":"monotone"},"encoding":{"x":{"field":"f","type":"quantitative","scale":{"domain":[67.15,82.83],"range":[930.5,1428.5]},"axis":{"orient":"bottom","offset":-378,"values":[68,70,72,74,76,78,80,82],"labels":false,"title":null}},"y":{"field":"t","type":"quantitative","scale":{"domain":[1397,2603],"range":[544.5,474.5]},"axis":{"orient":"left","offset":-930,"values":[1500,2000,2500],"title":"Temp. [K]","format":"d"}}}},
{"data":{"name":"r2y"},"mark":{"type":"line","color":"#1f77b4","strokeWidth":9,"strokeCap":"butt","interpolate":"monotone"},"encoding":{"x":{"field":"t","type":"quantitative","scale":{"domain":[1719,2016],"range":[1428.5,1577.5]},"axis":{"orient":"bottom","offset":-145,"values":[1800,1900,2000],"title":"Temp. [K]","format":"d"}},"y":{"field":"h","type":"quantitative","scale":{"domain":[11.7975,13.2775],"range":[777.5,544.5]},"axis":{"orient":"left","offset":-1428,"values":[12,12.25,12.5,12.75,13,13.25],"labels":false,"title":null}}}},
{"data":{"name":"h1x"},"mark":{"type":"rect","width":26,"height":30.25},"encoding":{"x":{"field":"f","type":"quantitative","scale":{"domain":[52.1375,67.8375],"range":[89.5,587.5]},"axis":{"orient":"bottom","offset":-511,"zindex":1,"values":[54,56,58,60,62,64,66],"title":"Frequency [MHz]"}},"y":{"field":"h","type":"quantitative","scale":{"domain":[11.7975,13.2775],"range":[411.5,178.5]},"axis":{"orient":"left","offset":-89,"zindex":1,"values":[12,12.25,12.5,12.75,13],"format":".2f","title":"LST [h]"}},"color":{"field":"t","type":"quantitative","scale":{"scheme":"viridis","domain":[1398,5205],"clamp":true},"legend":{"orient":"none","legendX":89.5,"legendY":841,"direction":"horizontal","gradientLength":1488,"gradientThickness":29.5,"title":null,"labelExpr":"''","padding":0,"values":[1500,5000]}}}},
{"data":{"name":"h1y"},"mark":{"type":"rect","width":26,"height":30.25},"encoding":{"x":{"field":"f","type":"quantitative","scale":{"domain":[52.1375,67.8375],"range":[930.5,1428.5]},"axis":{"orient":"bottom","offset":-511,"zindex":1,"values":[54,56,58,60,62,64,66],"title":"Frequency [MHz]"}},"y":{"field":"h","type":"quantitative","scale":{"domain":[11.7975,13.2775],"range":[411.5,178.5]},"axis":{"orient":"left","offset":-930,"zindex":1,"values":[12,12.25,12.5,12.75,13],"format":".2f","title":"LST [h]"}},"color":{"field":"t","type":"quantitative"}}},
{"data":{"name":"h2x"},"mark":{"type":"rect","width":32.25,"height":30.25},"encoding":{"x":{"field":"f","type":"quantitative","scale":{"domain":[67.15,82.83],"range":[89.5,587.5]},"axis":{"orient":"bottom","offset":-145,"zindex":1,"values":[68,70,72,74,76,78,80,82],"title":"Frequency [MHz]"}},"y":{"field":"h","type":"quantitative","scale":{"domain":[11.7975,13.2775],"range":[777.5,544.5]},"axis":{"orient":"left","offset":-89,"zindex":1,"values":[12,12.25,12.5,12.75,13],"format":".2f","title":"LST [h]"}},"color":{"field":"t","type":"quantitative"}}},
{"data":{"name":"h2y"},"mark":{"type":"rect","width":32.25,"height":30.25},"encoding":{"x":{"field":"f","type":"quantitative","scale":{"domain":[67.15,82.83],"range":[930.5,1428.5]},"axis":{"orient":"bottom","offset":-145,"zindex":1,"values":[68,70,72,74,76,78,80,82],"title":"Frequency [MHz]"}},"y":{"field":"h","type":"quantitative","scale":{"domain":[11.7975,13.2775],"range":[777.5,544.5]},"axis":{"orient":"left","offset":-930,"zindex":1,"values":[12,12.25,12.5,12.75,13],"format":".2f","title":"LST [h]"}},"color":{"field":"t","type":"quantitative"}}},
{"data":{"values":[{"frame":"colorbar"}]},"mark":{"type":"rect","fillOpacity":0,"stroke":"black","strokeWidth":1},"encoding":{"x":{"datum":1398,"type":"quantitative","scale":{"domain":[1398,5205],"range":[89.5,1577.5]},"axis":{"orient":"bottom","offset":-52,"values":[1500,2000,2500,3000,3500,4000,4500,5000],"format":"d","tickSize":4,"labelPadding":5,"titlePadding":6,"title":"Temp. [K]"}},"x2":{"datum":5205},"y":{"datum":0,"type":"quantitative","scale":{"domain":[0,1],"range":[870.5,840.5]},"axis":null},"y2":{"datum":1}}},
{"data":{"values":[{"label":"Tuning 1 XX"}]},"mark":{"type":"text","fontSize":16.6,"color":"black","baseline":"middle"},"encoding":{"x":{"datum":0.575,"type":"quantitative","scale":{"domain":[0,1],"range":[587.5,736.5]},"axis":null},"y":{"datum":0.57,"type":"quantitative","scale":{"domain":[0,1],"range":[178.5,109.5]},"axis":null},"text":{"field":"label"}}},
{"data":{"values":[{"label":"Tuning 1 YY"}]},"mark":{"type":"text","fontSize":16.6,"color":"black","baseline":"middle"},"encoding":{"x":{"datum":0.57,"type":"quantitative","scale":{"domain":[0,1],"range":[1428.5,1577.5]},"axis":null},"y":{"datum":0.57,"type":"quantitative","scale":{"domain":[0,1],"range":[178.5,109.5]},"axis":null},"text":{"field":"label"}}},
{"data":{"values":[{"label":"Tuning 2 XX"}]},"mark":{"type":"text","fontSize":16.6,"color":"black","baseline":"middle"},"encoding":{"x":{"datum":0.575,"type":"quantitative","scale":{"domain":[0,1],"range":[587.5,736.5]},"axis":null},"y":{"datum":0.59,"type":"quantitative","scale":{"domain":[0,1],"range":[544.5,474.5]},"axis":null},"text":{"field":"label"}}},
{"data":{"values":[{"label":"Tuning 2 YY"}]},"mark":{"type":"text","fontSize":16.6,"color":"black","baseline":"middle"},"encoding":{"x":{"datum":0.57,"type":"quantitative","scale":{"domain":[0,1],"range":[1428.5,1577.5]},"axis":null},"y":{"datum":0.59,"type":"quantitative","scale":{"domain":[0,1],"range":[544.5,474.5]},"axis":null},"text":{"field":"label"}}},
{"data":{"values":[{"frame":"t1x"}]},"mark":{"type":"rect","fillOpacity":0,"stroke":"black","strokeWidth":1},"encoding":{"x":{"datum":0,"type":"quantitative","scale":{"domain":[0,1],"range":[89.5,587.5]},"axis":null},"x2":{"datum":1},"y":{"datum":0,"type":"quantitative","scale":{"domain":[0,1],"range":[178.5,109.5]},"axis":null},"y2":{"datum":1}}},
{"data":{"values":[{"frame":"m1x"}]},"mark":{"type":"rect","fillOpacity":0,"stroke":"black","strokeWidth":1},"encoding":{"x":{"datum":0,"type":"quantitative","scale":{"domain":[0,1],"range":[89.5,736.5]},"axis":null},"x2":{"datum":1},"y":{"datum":0,"type":"quantitative","scale":{"domain":[0,1],"range":[411.5,178.5]},"axis":null},"y2":{"datum":1}}},
{"data":{"values":[{"frame":"t1y"}]},"mark":{"type":"rect","fillOpacity":0,"stroke":"black","strokeWidth":1},"encoding":{"x":{"datum":0,"type":"quantitative","scale":{"domain":[0,1],"range":[930.5,1428.5]},"axis":null},"x2":{"datum":1},"y":{"datum":0,"type":"quantitative","scale":{"domain":[0,1],"range":[178.5,109.5]},"axis":null},"y2":{"datum":1}}},
{"data":{"values":[{"frame":"m1y"}]},"mark":{"type":"rect","fillOpacity":0,"stroke":"black","strokeWidth":1},"encoding":{"x":{"datum":0,"type":"quantitative","scale":{"domain":[0,1],"range":[930.5,1577.5]},"axis":null},"x2":{"datum":1},"y":{"datum":0,"type":"quantitative","scale":{"domain":[0,1],"range":[411.5,178.5]},"axis":null},"y2":{"datum":1}}},
{"data":{"values":[{"frame":"t2x"}]},"mark":{"type":"rect","fillOpacity":0,"stroke":"black","strokeWidth":1},"encoding":{"x":{"datum":0,"type":"quantitative","scale":{"domain":[0,1],"range":[89.5,587.5]},"axis":null},"x2":{"datum":1},"y":{"datum":0,"type":"quantitative","scale":{"domain":[0,1],"range":[544.5,474.5]},"axis":null},"y2":{"datum":1}}},
{"data":{"values":[{"frame":"m2x"}]},"mark":{"type":"rect","fillOpacity":0,"stroke":"black","strokeWidth":1},"encoding":{"x":{"datum":0,"type":"quantitative","scale":{"domain":[0,1],"range":[89.5,736.5]},"axis":null},"x2":{"datum":1},"y":{"datum":0,"type":"quantitative","scale":{"domain":[0,1],"range":[777.5,544.5]},"axis":null},"y2":{"datum":1}}},
{"data":{"values":[{"frame":"t2y"}]},"mark":{"type":"rect","fillOpacity":0,"stroke":"black","strokeWidth":1},"encoding":{"x":{"datum":0,"type":"quantitative","scale":{"domain":[0,1],"range":[930.5,1428.5]},"axis":null},"x2":{"datum":1},"y":{"datum":0,"type":"quantitative","scale":{"domain":[0,1],"range":[544.5,474.5]},"axis":null},"y2":{"datum":1}}},
{"data":{"values":[{"frame":"m2y"}]},"mark":{"type":"rect","fillOpacity":0,"stroke":"black","strokeWidth":1},"encoding":{"x":{"datum":0,"type":"quantitative","scale":{"domain":[0,1],"range":[930.5,1577.5]},"axis":null},"x2":{"datum":1},"y":{"datum":0,"type":"quantitative","scale":{"domain":[0,1],"range":[777.5,544.5]},"axis":null},"y2":{"datum":1}}}
]}
